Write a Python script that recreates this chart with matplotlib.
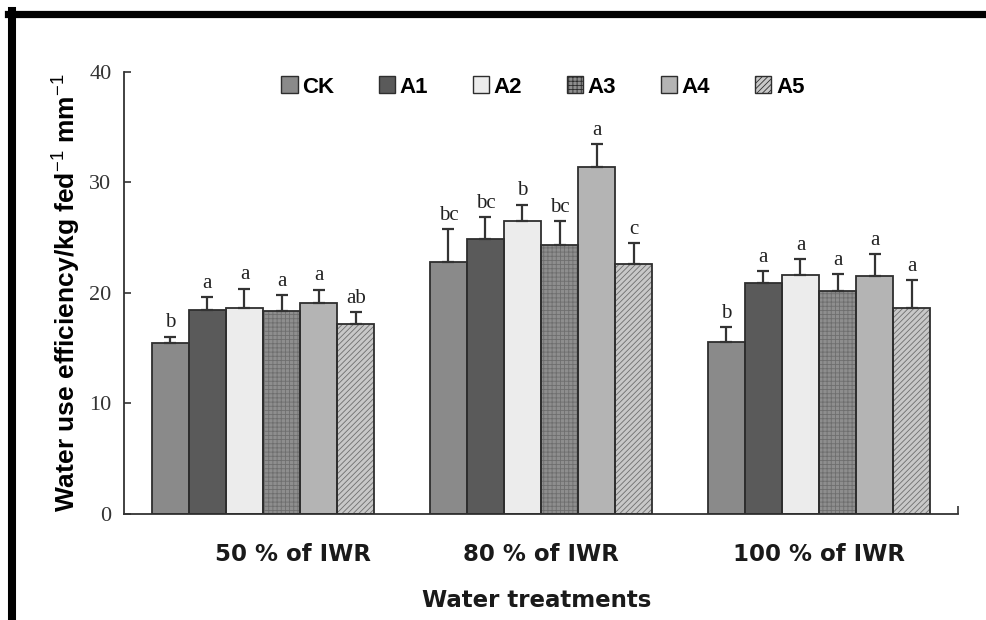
import numpy as np
import matplotlib
matplotlib.use("Agg")
import matplotlib.pyplot as plt
import matplotlib.transforms as mtransforms
from matplotlib.patches import Patch
from matplotlib.lines import Line2D

# ---------- data ----------
groups = ["50 % of IWR", "80 % of IWR", "100 % of IWR"]
series = ["CK", "A1", "A2", "A3", "A4", "A5"]
wue = {
    "CK": [15.5, 22.8, 15.6],
    "A1": [18.5, 24.9, 20.9],
    "A2": [18.6, 26.5, 21.6],
    "A3": [18.4, 24.3, 20.2],
    "A4": [19.1, 31.4, 21.5],
    "A5": [17.2, 22.6, 18.6],
}
err = {
    "CK": [0.55, 3.0, 1.3],
    "A1": [1.1, 2.0, 1.1],
    "A2": [1.8, 1.5, 1.5],
    "A3": [1.4, 2.2, 1.5],
    "A4": [1.2, 2.1, 2.0],
    "A5": [1.05, 1.9, 2.6],
}
letters = {
    "CK": ["b", "bc", "b"],
    "A1": ["a", "bc", "a"],
    "A2": ["a", "b", "a"],
    "A3": ["a", "bc", "a"],
    "A4": ["a", "a", "a"],
    "A5": ["ab", "c", "a"],
}

# ---------- styles ----------
face  = {"CK": "#8a8a8a", "A1": "#5a5a5a", "A2": "#ececec",
         "A3": "#8e8e8e", "A4": "#b4b4b4", "A5": "#c8c8c8"}
hatch = {"CK": "", "A1": "", "A2": "", "A3": "++++", "A4": "", "A5": "//////"}
hcol  = {"CK": "#8a8a8a", "A1": "#5a5a5a", "A2": "#ececec",
         "A3": "#6e6e6e", "A4": "#b4b4b4", "A5": "#6e6e6e"}
label_shift_px = [30, 0, 0]   # first group label sits right of its group centre
EDGE = "#2e2e2e"
SANS = "Liberation Sans"; SERIF = "Liberation Serif"; WIDE = "DejaVu Sans"

plt.rcParams["hatch.linewidth"] = 0.6
plt.rcParams["mathtext.fontset"] = "custom"
plt.rcParams["mathtext.rm"] = SANS

fig = plt.figure(figsize=(9.86, 6.2), dpi=100)
ax = fig.add_axes([0.1258, 0.171, 0.8458, 0.713])

x = np.arange(len(groups))
w = 0.8 / len(series)
for k, s in enumerate(series):
    xs = x - 0.4 + w * (k + 0.5)
    ax.bar(xs, wue[s], w, color=face[s], edgecolor=hcol[s], hatch=hatch[s], linewidth=0, zorder=2)
    ax.bar(xs, wue[s], w, fill=False, edgecolor=EDGE, linewidth=1.3, zorder=3)
    ax.errorbar(xs, wue[s], yerr=[np.zeros(3), err[s]], fmt="none", ecolor="#333333",
                elinewidth=1.6, capsize=4, capthick=1.6, zorder=4)
    for xi, v, e, lab in zip(xs, wue[s], err[s], letters[s]):
        ax.annotate(lab, (xi, v + e), xytext=(0, 3), textcoords="offset points",
                    ha="center", va="bottom", fontsize=15, family=SERIF, color="#222222")

ax.set_xlim(-0.5, 2.5)
ax.set_ylim(0, 40)
ax.set_yticks([0, 10, 20, 30, 40])
ax.tick_params(axis="y", direction="in", length=5, width=1.2, pad=9, labelsize=16, colors="#333333")
for t in ax.get_yticklabels():
    t.set_family(SERIF)
ax.set_xticks(x)
ax.set_xticklabels(groups, fontsize=16.5, fontweight="bold", family=WIDE, color="#1a1a1a")
ax.tick_params(axis="x", length=0, pad=21)
for t, dx in zip(ax.get_xticklabels(), label_shift_px):
    t.set_transform(t.get_transform() + mtransforms.Affine2D().translate(dx, 0))
ax.set_xticks([2.5], minor=True)
ax.tick_params(axis="x", which="minor", direction="in", length=6, width=1.2, color="#333333")
for sp in ["top", "right"]:
    ax.spines[sp].set_visible(False)
for sp in ["left", "bottom"]:
    ax.spines[sp].set_linewidth(1.3)
    ax.spines[sp].set_color("#333333")

ax.set_xlabel("Water treatments", fontsize=16.5, fontweight="bold", family=WIDE, color="#1a1a1a")
ax.xaxis.set_label_coords(0.4946, -0.17)
ax.set_ylabel(r"Water use efficiency/kg fed$^{-1}$ mm$^{-1}$", fontsize=19,
              fontweight="bold", family=SANS, labelpad=5)

handles = [Patch(facecolor=face[s], edgecolor=EDGE, hatch=hatch[s], linewidth=1.0) for s in series]
ax.legend(handles, series, loc="upper center", bbox_to_anchor=(0.502, 1.035), ncol=6, frameon=False,
          prop={"family": SANS, "weight": "bold", "size": 16}, handlelength=0.75, handleheight=0.8,
          handletextpad=0.2, columnspacing=2.0)

# thick black frame on top and left
fig.add_artist(Line2D([0.008, 1.0], [0.978, 0.978], color="black", lw=5.2, transform=fig.transFigure))
fig.add_artist(Line2D([0.012, 0.012], [0.0, 0.982], color="black", lw=5.8, transform=fig.transFigure))

fig.savefig("out.png", dpi=100)
